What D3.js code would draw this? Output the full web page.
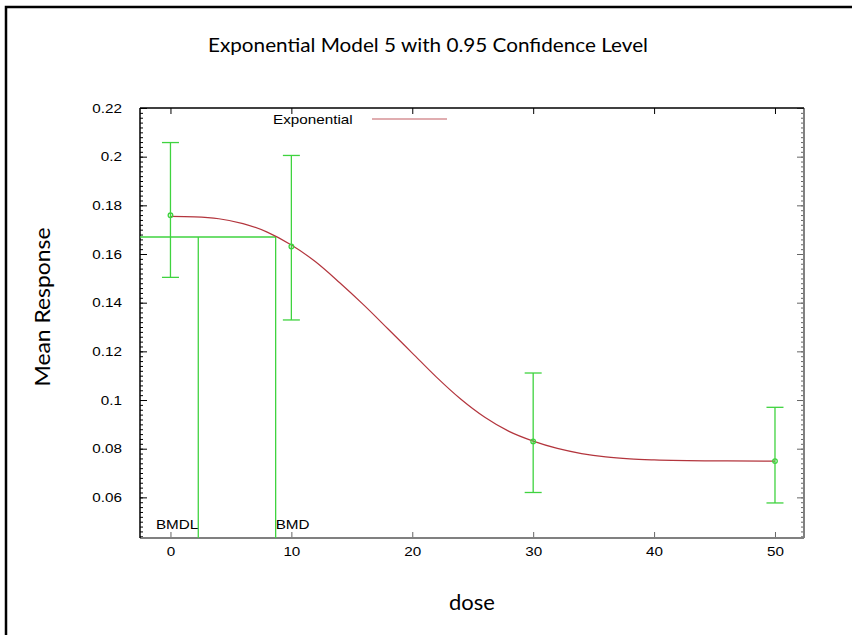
<!DOCTYPE html>
<html>
<head>
<meta charset="utf-8">
<script src="https://cdn.jsdelivr.net/npm/d3@7"></script>
<style>
  body { margin: 0; background: #fff; }
  svg { display: block; }
  .tick text { font-family: "Liberation Sans", Arial, sans-serif; font-size: 12.5px; fill: #000; }
</style>
</head>
<body>
<svg width="852" height="635"></svg>
<script>
// observed group means with 95% limits
var doses = [0, 10, 30, 50];
var means = [0.1759, 0.1631, 0.0830, 0.0749];
var lowers = [0.1504, 0.1329, 0.0620, 0.0577];
var uppers = [0.2058, 0.2005, 0.1111, 0.0970];

// fitted exponential curve
var curveDose = [0, 2, 4, 6, 8, 10, 12, 14, 16, 18, 20, 22, 24, 26, 28, 30, 32, 34, 36, 38, 40, 45, 50];
var curveResp = [0.1755, 0.1753, 0.1745, 0.1725, 0.1690, 0.1637, 0.1568, 0.1482, 0.1390, 0.1292,
  0.1193, 0.1094, 0.1004, 0.0929, 0.0871, 0.0831, 0.0801, 0.0780, 0.0766, 0.0758, 0.0754, 0.0750, 0.0749];

var bmr = 0.167, bmd = 8.7, bmdl = 2.3;

var xTicks = [0, 10, 20, 30, 40, 50];
var yTicks = [0.06, 0.08, 0.1, 0.12, 0.14, 0.16, 0.18, 0.2, 0.22];
var yMinor = d3.range(0.044, 0.2201, 0.002);

var green = "#3fd33f", red = "#b3353d", sx = 1.22;

var svg = d3.select("svg");

// outer frame
svg.append("rect")
  .attr("x", 6).attr("y", 7)
  .attr("width", 900).attr("height", 700)
  .attr("fill", "none").attr("stroke", "#000").attr("stroke-width", 2.5);

svg.append("text")
  .attr("x", 428).attr("y", 52)
  .attr("text-anchor", "middle")
  .attr("font-family", "Lato, 'Open Sans', sans-serif")
  .attr("font-size", "20px")
  .attr("textLength", 440).attr("lengthAdjust", "spacingAndGlyphs")
  .text("Exponential Model 5 with 0.95 Confidence Level");

var pLeft = 140, pRight = 804, pTop = 108, pBottom = 538;

var x = d3.scaleLinear().domain([-2.52, 52.4]).range([pLeft, pRight]);
var y = d3.scaleLinear().domain([0.0433, 0.22]).range([pBottom, pTop]);

// minor ticks, left and right
svg.append("g")
  .attr("transform", "translate(" + pLeft + ",0)")
  .call(d3.axisLeft(y).tickValues(yMinor).tickSize(-3).tickFormat(""))
  .call(function (g) { g.select(".domain").remove(); });
svg.append("g")
  .attr("transform", "translate(" + pRight + ",0)")
  .call(d3.axisRight(y).tickValues(yMinor).tickSize(-3).tickFormat(""))
  .call(function (g) { g.select(".domain").remove(); g.selectAll("line").attr("stroke", "#666"); });

// major y ticks
var yAxis = svg.append("g")
  .attr("transform", "translate(" + pLeft + ",0)")
  .call(d3.axisLeft(y).tickValues(yTicks).tickSize(-7).tickPadding(18).tickFormat(d3.format("~g")))
  .call(function (g) { g.select(".domain").remove(); });
yAxis.selectAll("text")
  .attr("x", -18 / sx)
  .attr("transform", "scale(" + sx + ",1)");

svg.append("g")
  .attr("transform", "translate(" + pRight + ",0)")
  .call(d3.axisRight(y).tickValues(yTicks).tickSize(-7).tickFormat(""))
  .call(function (g) { g.select(".domain").remove(); g.selectAll("line").attr("stroke", "#666"); });

// x ticks
var xAxis = svg.append("g")
  .attr("transform", "translate(0," + pBottom + ")")
  .call(d3.axisBottom(x).tickValues(xTicks).tickSize(-6).tickPadding(9.5))
  .call(function (g) { g.select(".domain").remove(); g.selectAll("line").attr("stroke", "#666"); });
xAxis.selectAll("text").attr("transform", "scale(" + sx + ",1)");

svg.append("g")
  .attr("transform", "translate(0," + pTop + ")")
  .call(d3.axisTop(x).tickValues(xTicks).tickSize(-6).tickFormat(""))
  .call(function (g) { g.select(".domain").remove(); });

// box
svg.append("line").attr("x1", pLeft).attr("x2", pRight).attr("y1", pBottom).attr("y2", pBottom)
  .attr("stroke", "#808080").attr("stroke-width", 2);
svg.append("line").attr("x1", pRight).attr("x2", pRight).attr("y1", pTop).attr("y2", pBottom)
  .attr("stroke", "#808080").attr("stroke-width", 2);
svg.append("line").attr("x1", pLeft).attr("x2", pRight).attr("y1", pTop).attr("y2", pTop)
  .attr("stroke", "#000").attr("stroke-width", 1.5);
svg.append("line").attr("x1", pLeft).attr("x2", pLeft).attr("y1", pTop).attr("y2", pBottom)
  .attr("stroke", "#000").attr("stroke-width", 1.5);

// BMD / BMDL markers
svg.append("line")
  .attr("x1", pLeft).attr("x2", x(bmd)).attr("y1", y(bmr)).attr("y2", y(bmr))
  .attr("stroke", green).attr("stroke-width", 1.3);
svg.selectAll(".bmdline")
  .data([bmdl, bmd])
  .enter()
  .append("line")
  .attr("class", "bmdline")
  .attr("x1", function (d) { return x(d); })
  .attr("x2", function (d) { return x(d); })
  .attr("y1", y(bmr))
  .attr("y2", pBottom)
  .attr("stroke", green).attr("stroke-width", 1.3);

svg.append("text")
  .attr("x", x(bmdl) / sx).attr("y", 529)
  .attr("transform", "scale(" + sx + ",1)")
  .attr("text-anchor", "end")
  .attr("font-family", "'Liberation Sans', Arial, sans-serif").attr("font-size", "12.5px")
  .text("BMDL");
svg.append("text")
  .attr("x", x(bmd) / sx).attr("y", 529)
  .attr("transform", "scale(" + sx + ",1)")
  .attr("font-family", "'Liberation Sans', Arial, sans-serif").attr("font-size", "12.5px")
  .text("BMD");

// fitted curve
var line = d3.line()
  .x(function (d, i) { return x(curveDose[i]); })
  .y(function (d) { return y(d); })
  .curve(d3.curveMonotoneX);

svg.append("path")
  .datum(curveResp)
  .attr("d", line)
  .attr("fill", "none")
  .attr("stroke", red)
  .attr("stroke-width", 1.2);

// error bars
var bars = svg.selectAll(".err")
  .data(doses)
  .enter()
  .append("g")
  .attr("class", "err")
  .attr("stroke", green)
  .attr("stroke-width", 1.3)
  .attr("fill", "none");

bars.append("line")
  .attr("x1", function (d) { return x(d); })
  .attr("x2", function (d) { return x(d); })
  .attr("y1", function (d, i) { return y(uppers[i]); })
  .attr("y2", function (d, i) { return y(lowers[i]); });
bars.append("line")
  .attr("x1", function (d) { return x(d) - 8.5; })
  .attr("x2", function (d) { return x(d) + 8.5; })
  .attr("y1", function (d, i) { return y(uppers[i]); })
  .attr("y2", function (d, i) { return y(uppers[i]); });
bars.append("line")
  .attr("x1", function (d) { return x(d) - 8.5; })
  .attr("x2", function (d) { return x(d) + 8.5; })
  .attr("y1", function (d, i) { return y(lowers[i]); })
  .attr("y2", function (d, i) { return y(lowers[i]); });
bars.append("circle")
  .attr("cx", function (d) { return x(d); })
  .attr("cy", function (d, i) { return y(means[i]); })
  .attr("r", 2.3);

// legend
svg.append("text")
  .attr("x", 273 / sx).attr("y", 124)
  .attr("transform", "scale(" + sx + ",1)")
  .attr("font-family", "'Liberation Sans', Arial, sans-serif").attr("font-size", "12.5px")
  .text("Exponential");
svg.append("line")
  .attr("x1", 372).attr("x2", 447).attr("y1", 119).attr("y2", 119)
  .attr("stroke", red).attr("stroke-width", 1.2).attr("opacity", 0.8);

// axis titles
svg.append("text")
  .attr("x", 472).attr("y", 610)
  .attr("text-anchor", "middle")
  .attr("font-family", "Lato, 'Open Sans', sans-serif")
  .attr("font-size", "22px")
  .text("dose");

svg.append("text")
  .attr("transform", "translate(50,307) rotate(-90)")
  .attr("text-anchor", "middle")
  .attr("font-family", "Lato, 'Open Sans', sans-serif")
  .attr("font-size", "21px")
  .attr("textLength", 159).attr("lengthAdjust", "spacingAndGlyphs")
  .text("Mean Response");
</script>
</body>
</html>
